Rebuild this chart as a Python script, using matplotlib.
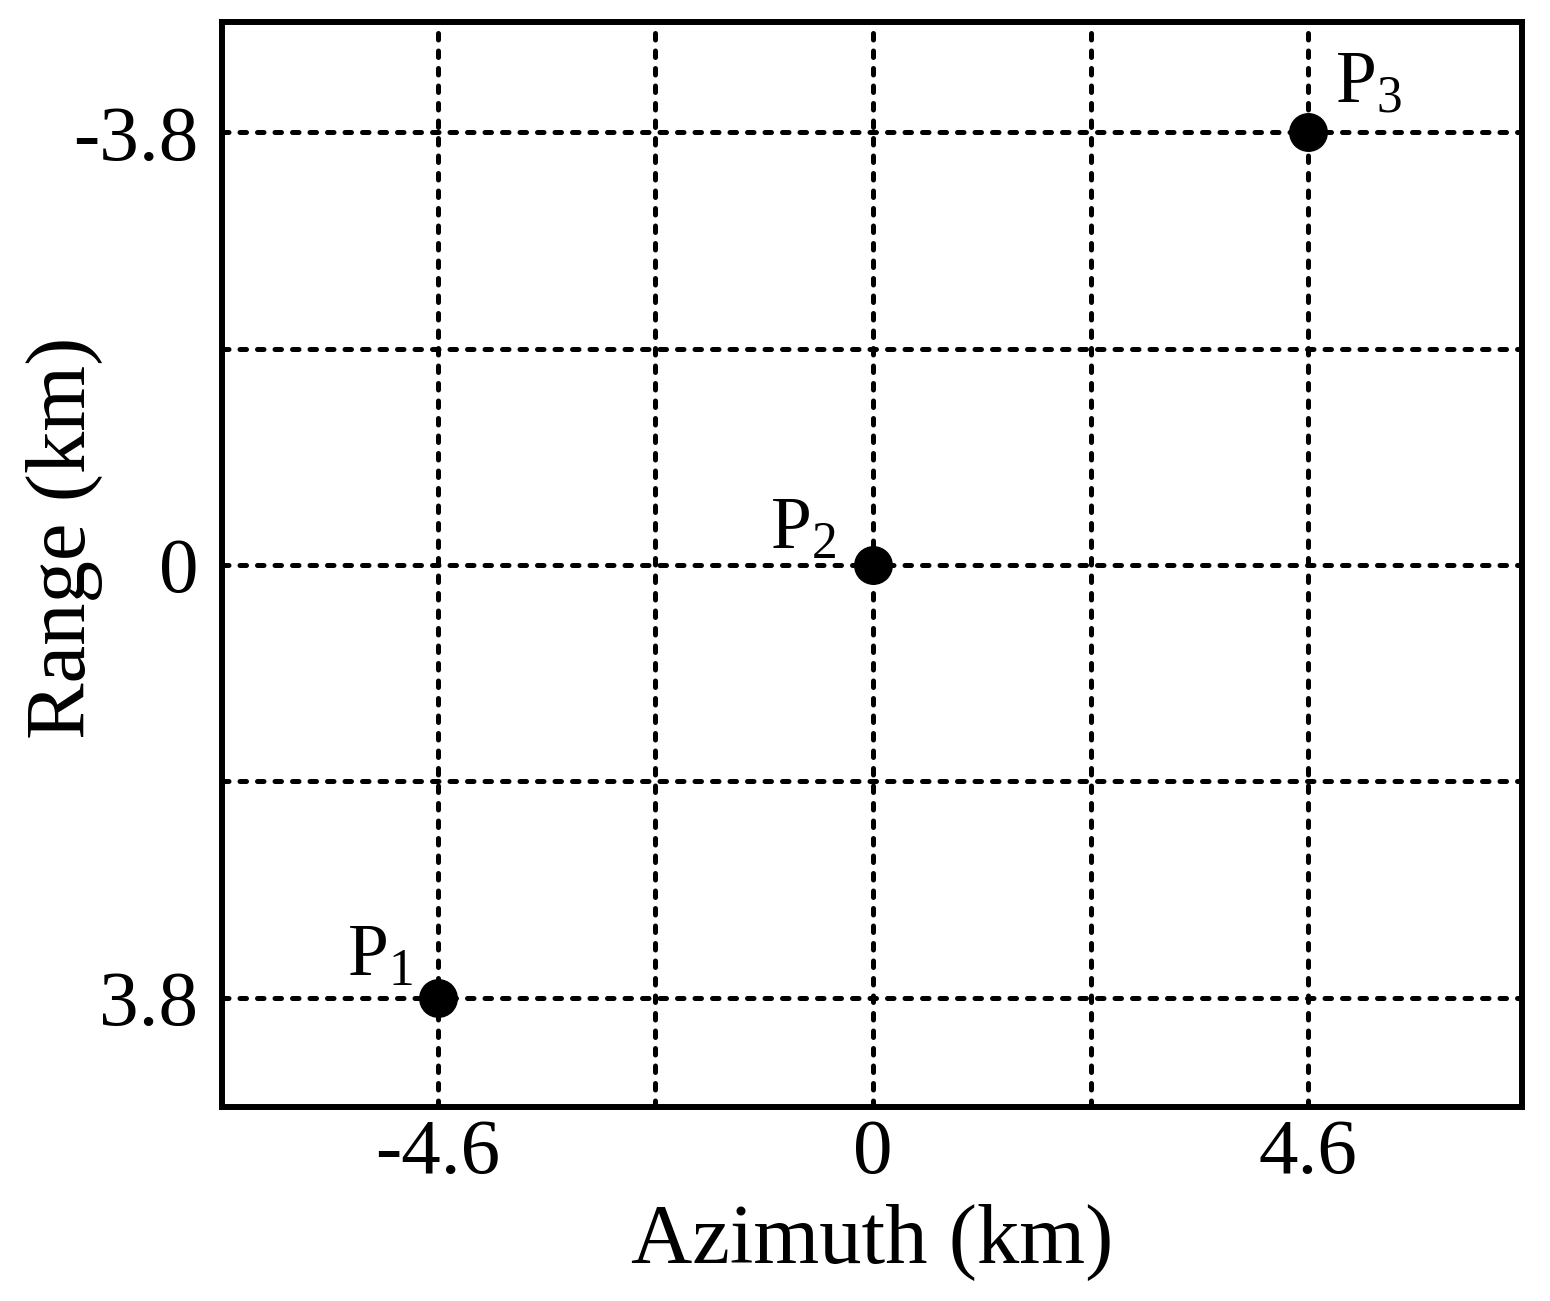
import matplotlib
matplotlib.use("Agg")
import matplotlib.pyplot as plt

# target positions (km)
names = ["P$_1$", "P$_2$", "P$_3$"]
azimuth = [-4.6, 0.0, 4.6]
rng = [3.8, 0.0, -3.8]

x_major = [-4.6, 0, 4.6]
x_labels = ["-4.6", "0", "4.6"]
y_major = [-3.8, 0, 3.8]
y_labels = ["-3.8", "0", "3.8"]
x_minor = [-2.3, 2.3]
y_minor = [-1.9, 1.9]

plt.rcParams["font.family"] = "Liberation Serif"
plt.rcParams["mathtext.fontset"] = "custom"
plt.rcParams["mathtext.rm"] = "Liberation Serif"
plt.rcParams["mathtext.it"] = "Liberation Serif"

fig = plt.figure(figsize=(15.5, 13.01), dpi=100)
ax = fig.add_axes([0.1432, 0.1491, 0.9820 - 0.1432, 0.9831 - 0.1491])

ax.plot(azimuth, rng, "o", color="black", ms=27, ls="", zorder=5)

# label offsets in points
offs = [(-18, 4, "right"), (-26, 0, "right"), (19, 10, "left")]
for n, x, y, (dx, dy, ha) in zip(names, azimuth, rng, offs):
    ax.annotate(n, (x, y), xytext=(dx, dy), textcoords="offset points",
                ha=ha, va="bottom", fontsize=53)

ax.set_xlim(-6.88, 6.86)
ax.set_ylim(4.76, -4.77)

ax.set_xticks(x_major)
ax.set_xticklabels(x_labels)
ax.set_xticks(x_minor, minor=True)
ax.set_yticks(y_major)
ax.set_yticklabels(y_labels)
ax.set_yticks(y_minor, minor=True)

ax.tick_params(which="both", length=0, labelsize=57)
ax.tick_params(axis="y", pad=17)
ax.tick_params(axis="x", pad=8)

ax.grid(which="both", color="black", linestyle=(0, (1.3, 2.2)), linewidth=3.6,
        dash_capstyle="round")

for s in ax.spines.values():
    s.set_linewidth(4.3)

ax.set_xlabel("Azimuth (km)", fontsize=61, va="center")
ax.set_ylabel("Range (km)", fontsize=61, va="center")
ax.xaxis.set_label_coords(0.5, -0.125)
ax.yaxis.set_label_coords(-0.1215, 0.525)

fig.savefig("out.png", dpi=100)
